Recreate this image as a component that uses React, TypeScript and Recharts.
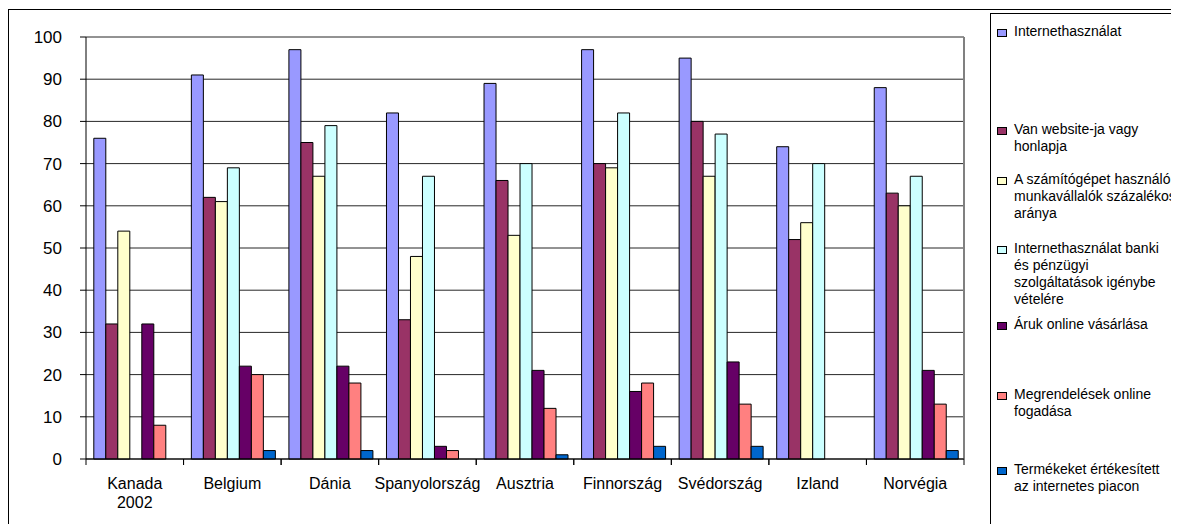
import React from "react";
import {
  BarChart,
  Bar,
  XAxis,
  YAxis,
  CartesianGrid,
  Legend,
  ReferenceLine,
} from "recharts";

const countries = [
  "Kanada\n2002",
  "Belgium",
  "Dánia",
  "Spanyolország",
  "Ausztria",
  "Finnország",
  "Svédország",
  "Izland",
  "Norvégia",
];

const internet = [76, 91, 97, 82, 89, 97, 95, 74, 88];
const website = [32, 62, 75, 33, 66, 70, 80, 52, 63];
const pcWorkers = [54, 61, 67, 48, 53, 69, 67, 56, 60];
const banking = [null, 69, 79, 67, 70, 82, 77, 70, 67];
const buying = [32, 22, 22, 3, 21, 16, 23, null, 21];
const orders = [8, 20, 18, 2, 12, 18, 13, null, 13];
const selling = [null, 2, 2, null, 1, 3, 3, null, 2];

const yTicks = [0, 10, 20, 30, 40, 50, 60, 70, 80, 90, 100];

const seriesNames = [
  "Internethasználat",
  "Van website-ja vagy\nhonlapja",
  "A számítógépet használó\nmunkavállalók százalékos\naránya",
  "Internethasználat banki\nés pénzügyi\nszolgáltatások igénybe\nvételére",
  "Áruk online vásárlása",
  "Megrendelések online\nfogadása",
  "Termékeket értékesített\naz internetes piacon",
];
const seriesValues = [internet, website, pcWorkers, banking, buying, orders, selling];
const seriesColors = ["#9999FF", "#993366", "#FFFFCC", "#CCFFFF", "#660066", "#FF8080", "#0066CC"];

// y centre of each legend entry's first line, in legend-box pixels
const legendTops = [18, 116, 166, 235, 311, 381, 456];

const data = countries.map((c, i) => {
  const row: Record<string, string | number | null> = { country: c };
  seriesValues.forEach((vals, s) => {
    row["s" + s] = vals[i];
  });
  return row;
});

const W = 1171;
const H = 516;
const PLOT_TOP = 29;
const PLOT_LEFT = 78;
const PLOT_RIGHT = 956;
const PLOT_BOTTOM = 451;
const FONT = "'Liberation Sans', Arial, sans-serif";

const XTick = ({ x, payload }: any) => {
  const half = (PLOT_RIGHT - PLOT_LEFT) / countries.length / 2;
  const lines = String(payload.value).split("\n");
  return (
    <g>
      <line x1={x - half} x2={x - half} y1={PLOT_BOTTOM} y2={PLOT_BOTTOM + 6} stroke="#000" />
      <line x1={x + half} x2={x + half} y1={PLOT_BOTTOM} y2={PLOT_BOTTOM + 6} stroke="#000" />
      <text x={x} y={PLOT_BOTTOM + 30} textAnchor="middle" fontSize={16} fill="#000" fontFamily={FONT}>
        {lines.map((l, i) => (
          <tspan key={i} x={x} dy={i === 0 ? 0 : 19}>
            {l}
          </tspan>
        ))}
      </text>
    </g>
  );
};

const LegendBox = () => (
  <div
    style={{
      position: "relative",
      width: 300,
      height: 600,
      border: "1px solid #000",
      fontFamily: FONT,
      fontSize: 14,
      color: "#000",
    }}
  >
    {seriesNames.map((name, i) => (
      <div
        key={i}
        style={{ position: "absolute", left: 6, top: legendTops[i] - 9, display: "flex", alignItems: "flex-start" }}
      >
        <span
          style={{
            display: "inline-block",
            width: 8,
            height: 6,
            marginTop: 6,
            marginRight: 7,
            background: seriesColors[i],
            border: "1px solid #000",
          }}
        />
        <span style={{ whiteSpace: "pre", lineHeight: "17px", textAlign: "left" }}>{name}</span>
      </div>
    ))}
  </div>
);

export default function App() {
  return (
    <div style={{ position: "relative", width: W, height: H, overflow: "hidden", background: "#fff" }}>
      <div
        style={{
          position: "absolute",
          left: 0,
          top: 1,
          width: 1400,
          height: 700,
          border: "1px solid #000",
          boxSizing: "border-box",
        }}
      />
      <div style={{ position: "absolute", left: 0, top: 0 }}>
        <BarChart
          width={W}
          height={H}
          data={data}
          margin={{ top: PLOT_TOP, right: W - PLOT_RIGHT, left: 0, bottom: H - PLOT_BOTTOM - 40 }}
          barCategoryGap="8%"
          barGap={0}
        >
          <CartesianGrid vertical={false} stroke="#000" strokeOpacity={0.85} />
          <XAxis
            dataKey="country"
            stroke="#000"
            tickLine={false}
            height={40}
            interval={0}
            tick={<XTick />}
          />
          <YAxis
            domain={[0, 100]}
            ticks={yTicks}
            width={PLOT_LEFT}
            stroke="#000"
            tickSize={6}
            tickMargin={18}
            interval={0}
            tick={{ fontSize: 17, fill: "#000", fontFamily: FONT }}
          />
          {/* plot area right border */}
          <ReferenceLine
            x={countries[countries.length - 1]}
            position="end"
            stroke="#808080"
            strokeWidth={2}
            ifOverflow="visible"
          />
          <Legend
            layout="horizontal"
            verticalAlign="middle"
            align="center"
            wrapperStyle={{ left: 982, top: 5, width: 300, height: 600 }}
            content={() => <LegendBox />}
          />
          {seriesNames.map((name, i) => (
            <Bar
              key={i}
              dataKey={"s" + i}
              name={name}
              fill={seriesColors[i]}
              stroke="#000"
              strokeWidth={1}
              isAnimationActive={false}
            />
          ))}
        </BarChart>
      </div>
    </div>
  );
}
